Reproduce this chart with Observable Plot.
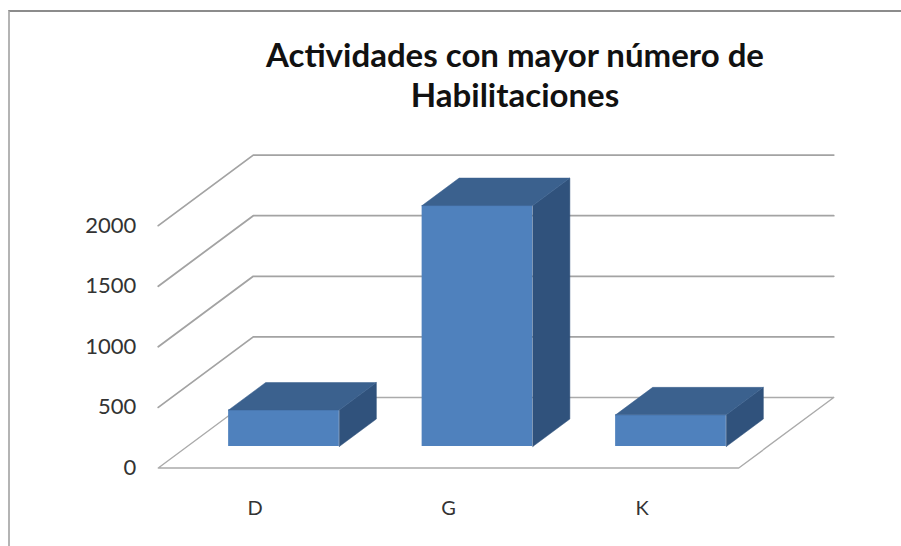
<!DOCTYPE html>
<html><head><meta charset="utf-8">
<style>
html,body{margin:0;padding:0;background:#fff;overflow:hidden}
#frame{position:absolute;left:8px;top:10px;right:-4px;bottom:-4px;border-top:2px solid #8c8c8c;border-left:2px solid #b4b4b4}
#chart{position:absolute;left:0;top:0}
#chart svg{background:transparent;display:block}
</style>
<script src="https://cdn.jsdelivr.net/npm/d3@7"></script>
<script src="https://cdn.jsdelivr.net/npm/@observablehq/plot@0.6"></script>
</head><body>
<div id="frame"></div><div id="chart"></div>
<script>
const title = "Actividades con mayor número de\nHabilitaciones";
const categories = ["D", "G", "K"];
const values = [301, 1988, 261];
const yTicks = [0, 500, 1000, 1500, 2000];

// Oblique projection of the 3D chart, in data units
const W = 901, H = 546;
const catPx = 193.5, valPx = 60.6 / 500;     // pixels per category / per unit
const x0Px = 254.5, y0Px = 467.5;            // pixel of category 0, value 0 (front of floor)
const depthX = 95 / catPx, depthY = 70.5 / valPx;
const halfBar = 0.286, halfFloor = 0.5;
const barFront = 0.305, barBack = 0.695;

const pt = (id, c, v, d) => ({id, x: c + d * depthX, y: v + d * depthY});
const left = -halfFloor, right = categories.length - 1 + halfFloor;

const gridRows = yTicks.slice(1).flatMap(t => [
  pt(t, left, t, 0), pt(t, left, t, 1), pt(t, right, t, 1)
]);
const floorFront = [pt("f", right, 0, 1), pt("f", right, 0, 0), pt("f", left, 0, 0), pt("f", left, 0, 1), pt("f", right, 0, 1)];

const topRows = categories.flatMap((c, i) => {
  const a = i - halfBar, b = i + halfBar, v = values[i];
  return [pt(c, a, v, barFront), pt(c, b, v, barFront), pt(c, b, v, barBack), pt(c, a, v, barBack), pt(c, a, v, barFront)];
});
const sideRows = categories.flatMap((c, i) => {
  const b = i + halfBar, v = values[i];
  return [pt(c, b, 0, barFront), pt(c, b, v, barFront), pt(c, b, v, barBack), pt(c, b, 0, barBack), pt(c, b, 0, barFront)];
});
const frontRows = categories.map((c, i) => ({
  x1: i - halfBar + barFront * depthX, x2: i + halfBar + barFront * depthX,
  y1: barFront * depthY, y2: values[i] + barFront * depthY
}));

const font = "Lato, 'Open Sans', sans-serif";
const chart = Plot.plot({
  width: W, height: H, margin: 0,
  style: {background: "transparent"},
  x: {type: "linear", domain: [-x0Px / catPx, (W - x0Px) / catPx], range: [0, W], axis: null},
  y: {type: "linear", domain: [(y0Px - H) / valPx, y0Px / valPx], range: [H, 0], axis: null},
  marks: [
    Plot.line(floorFront, {x: "x", y: "y", z: "id", stroke: "#ababab", strokeWidth: 1.4}),
    Plot.line(gridRows, {x: "x", y: "y", z: "id", stroke: "#a3a3a3", strokeWidth: 1.8}),
    Plot.rect(frontRows, {x1: "x1", x2: "x2", y1: "y1", y2: "y2", fill: "#4f81bd"}),
    Plot.line(sideRows, {x: "x", y: "y", z: "id", fill: "#30527c", stroke: "#30527c", strokeWidth: 0.5}),
    Plot.line(topRows, {x: "x", y: "y", z: "id", fill: "#3b618e", stroke: "#3b618e", strokeWidth: 0.5}),
    Plot.text(yTicks, {x: () => left, y: d => d, text: d => String(d), textAnchor: "end", dx: -22, fontSize: 22, fontFamily: font, fill: "#333"}),
    Plot.text(categories, {x: (d, i) => i, y: () => 0, text: d => d, dy: 40.5, fontSize: 20, fontFamily: font, fill: "#333"}),
    Plot.text([title], {frameAnchor: "top-left", dx: 514.5, dy: 38, lineAnchor: "top", textAnchor: "middle", lineHeight: 1.21, fontSize: 33, fontWeight: 700, fontFamily: font, fill: "#111"})
  ]
});
document.getElementById("chart").appendChild(chart);
</script>
</body></html>
